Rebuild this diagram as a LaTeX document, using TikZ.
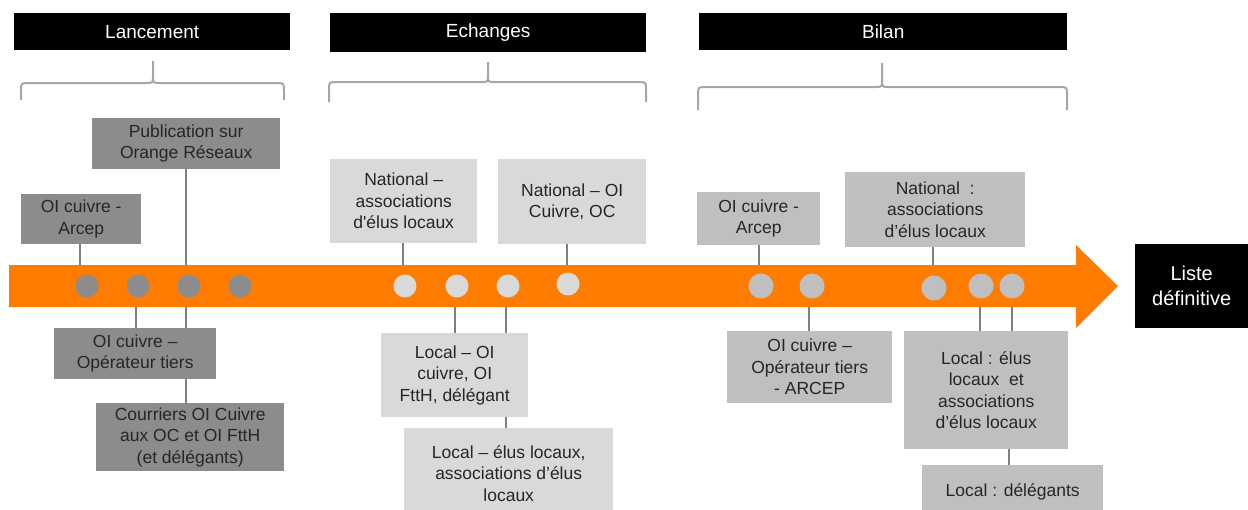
\documentclass[tikz,border=0pt]{standalone}
\usepackage{fontspec}
\setmainfont{Liberation Sans}
\begin{document}
\begin{tikzpicture}[x=1pt,y=-1pt,
  boxbase/.style={anchor=north west, inner sep=0pt, align=center, text=txtgray,
    font=\fontsize{17.5}{21.5}\selectfont},
  boxA/.style={boxbase, fill=lgA},
  boxB/.style={boxbase, fill=lgB},
  boxC/.style={boxbase, fill=lgC},
  header/.style={anchor=north west, inner sep=0pt, fill=black, text=white,
    font=\fontsize{19}{22}\selectfont},
  dotbase/.style={circle, inner sep=0pt, minimum size=23pt},
  dotA/.style={dotbase, fill=lgA},
  dotB/.style={dotbase, fill=lgB},
  dotC/.style={dotbase, fill=lgC, minimum size=25pt},
  conn/.style={draw=conngray, line width=1.5pt},
  bracestyle/.style={draw=bracegray, line width=2pt},
]
\definecolor{lgA}{HTML}{8C8C8C}
\definecolor{lgB}{HTML}{D9D9D9}
\definecolor{lgC}{HTML}{BFBFBF}
\definecolor{txtgray}{HTML}{262626}
\definecolor{conngray}{HTML}{7F7F7F}
\definecolor{bracegray}{HTML}{A6A6A6}
\definecolor{orangeA}{RGB}{255,124,0}

\useasboundingbox (0,0) rectangle (1248,509);

% headers
\node[header, minimum width=276pt, minimum height=37pt] (hL) at (14,13) {Lancement};
\node[header, minimum width=316pt, minimum height=39pt] (hE) at (330,13) {\raisebox{-1.5pt}{Echanges}};
\node[header, minimum width=368pt, minimum height=37pt] (hB) at (699,13) {Bilan};

% braces
\draw[bracestyle] (21,100) -- (21,91) .. controls (21,83) .. (29,83) -- (146,83)
  .. controls (153,83) .. (153,76) -- (153,61);
\draw[bracestyle] (284,100) -- (284,91) .. controls (284,83) .. (276,83) -- (160,83)
  .. controls (153,83) .. (153,76);
\draw[bracestyle] (329,102) -- (329,90) .. controls (329,82) .. (337,82) -- (481,82)
  .. controls (488,82) .. (488,75) -- (488,62);
\draw[bracestyle] (646,102) -- (646,90) .. controls (646,82) .. (638,82) -- (495,82)
  .. controls (488,82) .. (488,75);
\draw[bracestyle] (698,110) -- (698,95) .. controls (698,87) .. (706,87) -- (875,87)
  .. controls (882,87) .. (882,80) -- (882,63);
\draw[bracestyle] (1067,110) -- (1067,95) .. controls (1067,87) .. (1059,87) -- (889,87)
  .. controls (882,87) .. (882,80);

% timeline arrow
\fill[orangeA] (9,265) -- (1076,265) -- (1076,245) -- (1118,286) -- (1076,328)
  -- (1076,307) -- (9,307) -- cycle;

% final box
\node[anchor=north west, inner sep=0pt, fill=black, text=white, align=center,
  minimum width=113pt, minimum height=84pt, font=\fontsize{20}{25}\selectfont]
  (liste) at (1135,244) {Liste\\définitive};

% ---------- Lancement ----------
\node[boxA, minimum width=188pt, minimum height=51pt] (pub) at (92,118) {Publication sur\\Orange Réseaux};
\node[boxA, minimum width=120pt, minimum height=50pt] (arcA) at (21,194) {OI cuivre -\\Arcep};
\node[boxA, minimum width=162pt, minimum height=51pt] (otA) at (54,328) {OI cuivre –\\Opérateur tiers};
\node[boxA, minimum width=188pt, minimum height=68pt] (cour) at (96,403) {Courriers OI Cuivre\\aux OC et OI FttH\\(et délégants)};

\node[dotA] (d1) at (87,286) {};
\node[dotA] (d2) at (138,286) {};
\node[dotA] (d3) at (189,286) {};
\node[dotA] (d4) at (240,286) {};

\coordinate (tA1) at (80,265);
\coordinate (tA2) at (186,265);
\coordinate (bA1) at (136,307);
\coordinate (bA2) at (186,307);
\draw[conn] (arcA.south -| tA1) -- (tA1);
\draw[conn] (pub.south -| tA2) -- (tA2);
\draw[conn] (bA1) -- (otA.north -| bA1);
\draw[conn] (bA2) -- (otA.north -| bA2);
\draw[conn] (otA.south -| bA2) -- (cour.north -| bA2);

% ---------- Echanges ----------
\node[boxB, minimum width=147pt, minimum height=84pt] (natE) at (330,159) {National –\\associations\\d\textquotesingle élus locaux};
\node[boxB, minimum width=148pt, minimum height=85pt] (natOI) at (498,159) {National – OI\\Cuivre, OC};
\node[boxB, minimum width=147pt, minimum height=84pt] (locE) at (381,333) {Local – OI\\cuivre, OI\\FttH, délégant};
\node[boxB, minimum width=209pt, minimum height=90pt] (locEl) at (404,428) {Local – élus locaux,\\associations d’élus\\locaux};

\node[dotB] (e1) at (405,286) {};
\node[dotB] (e2) at (457,286) {};
\node[dotB] (e3) at (508,286) {};
\node[dotB] (e4) at (568,284) {};

\coordinate (tE1) at (403,265);
\coordinate (tE2) at (567,265);
\coordinate (bE1) at (455,307);
\coordinate (bE2) at (506,307);
\draw[conn] (natE.south -| tE1) -- (tE1);
\draw[conn] (natOI.south -| tE2) -- (tE2);
\draw[conn] (bE1) -- (locE.north -| bE1);
\draw[conn] (bE2) -- (locE.north -| bE2);
\draw[conn] (locE.south -| bE2) -- (locEl.north -| bE2);

% ---------- Bilan ----------
\node[boxC, minimum width=123pt, minimum height=53pt] (arcC) at (697,192) {OI cuivre -\\Arcep};
\node[boxC, minimum width=180pt, minimum height=75pt] (natC) at (845,172) {National \ :\\associations\\d’élus locaux};
\node[boxC, minimum width=165pt, minimum height=72pt] (otC) at (727,331) {OI cuivre –\\Opérateur tiers\\- ARCEP};
\node[boxC, minimum width=164pt, minimum height=118pt] (locC) at (904,331) {Local : élus\\locaux \ et\\associations\\d’élus locaux};
\node[boxC, minimum width=181pt, minimum height=54pt] (delC) at (922,465) {Local : délégants};

\node[dotC] (b1) at (761,286) {};
\node[dotC] (b2) at (812,286) {};
\node[dotC] (b3) at (934,288) {};
\node[dotC] (b4) at (981,286) {};
\node[dotC] (b5) at (1012,286) {};

\coordinate (tC1) at (759,265);
\coordinate (tC2) at (933,265);
\coordinate (bC1) at (809,307);
\coordinate (bC2) at (980,307);
\coordinate (bC3) at (1012,307);
\coordinate (bC4) at (1009,449);
\draw[conn] (arcC.south -| tC1) -- (tC1);
\draw[conn] (natC.south -| tC2) -- (tC2);
\draw[conn] (bC1) -- (otC.north -| bC1);
\draw[conn] (bC2) -- (locC.north -| bC2);
\draw[conn] (bC3) -- (locC.north -| bC3);
\draw[conn] (locC.south -| bC4) -- (delC.north -| bC4);
\end{tikzpicture}
\end{document}
